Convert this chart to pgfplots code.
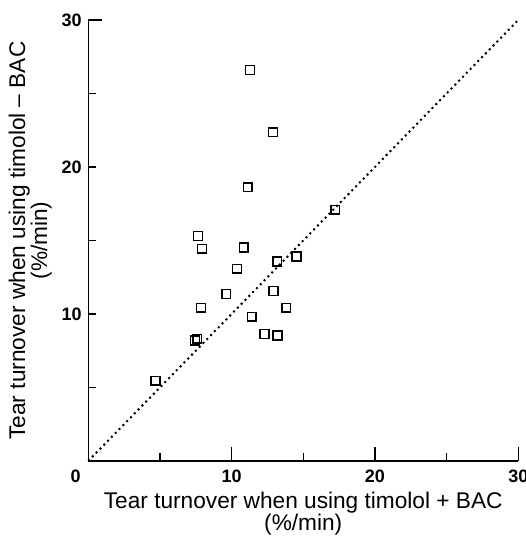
\documentclass[border=0pt]{standalone}
\usepackage{pgfplots}
\pgfplotsset{compat=1.18}
\usepackage{fontspec}
\setmainfont{Liberation Sans}
\begin{document}
\begin{tikzpicture}
\begin{axis}[
  at={(0,0)}, anchor=south west,
  scale only axis,
  width=322.5pt, height=330.75pt,
  xmin=0, xmax=30, ymin=0, ymax=30,
  axis lines=left,
  axis line style={-, line width=1.1pt},
  clip=false,
  xtick={10,20,30},
  minor xtick={5,15,25},
  ytick={30},
  minor ytick={5,15,25},
  extra y ticks={10,20},
  extra y tick style={major tick length=6pt},
  extra x ticks={0},
  extra x tick style={major tick length=0pt, xticklabel style={xshift=-9.5pt}},
  tick align=inside,
  major tick length=10.5pt,
  minor tick length=6pt,
  tick style={line width=1pt, black},
  /pgf/number format/assume math mode=true,
  ticklabel style={font=\fontsize{13.5}{14}\selectfont\bfseries},
  xticklabel style={yshift=-3pt},
  yticklabel style={xshift=-1.5pt},
  xlabel={Tear turnover when using timolol + BAC\\(\%/min)},
  ylabel={Tear turnover when using timolol -- BAC\\(\%/min)},
  xlabel style={at={(axis description cs:0.5,0)}, anchor=north, align=center, yshift=-20pt, font=\fontsize{17}{16}\selectfont},
  ylabel style={at={(axis description cs:0,0.5)}, anchor=center, align=center, xshift=0pt, yshift=43.5pt, font=\fontsize{17}{16.5}\selectfont},
]
\addplot[black, line width=1.5pt, dash pattern=on 1.5pt off 2.6pt] coordinates {(0,0) (30,30)};
\addplot[only marks, mark=square, mark size=3.3pt, mark options={line width=1.1pt, black, fill=white}] coordinates {
(11.28,26.60) (12.88,22.36) (11.12,18.62) (17.23,17.10) (7.65,15.31)
(7.93,14.44) (10.84,14.53) (14.53,13.92) (13.19,13.58) (10.37,13.08)
(9.63,11.36) (12.93,11.56) (7.86,10.43) (13.81,10.43) (11.40,9.82)
(12.30,8.64) (13.21,8.53) (7.60,8.32) (7.44,8.19) (4.70,5.46)
};
\end{axis}
\pgfresetboundingbox
\path (-66.2pt,-57pt) rectangle (328.3pt,345.75pt);
\end{tikzpicture}
\end{document}
